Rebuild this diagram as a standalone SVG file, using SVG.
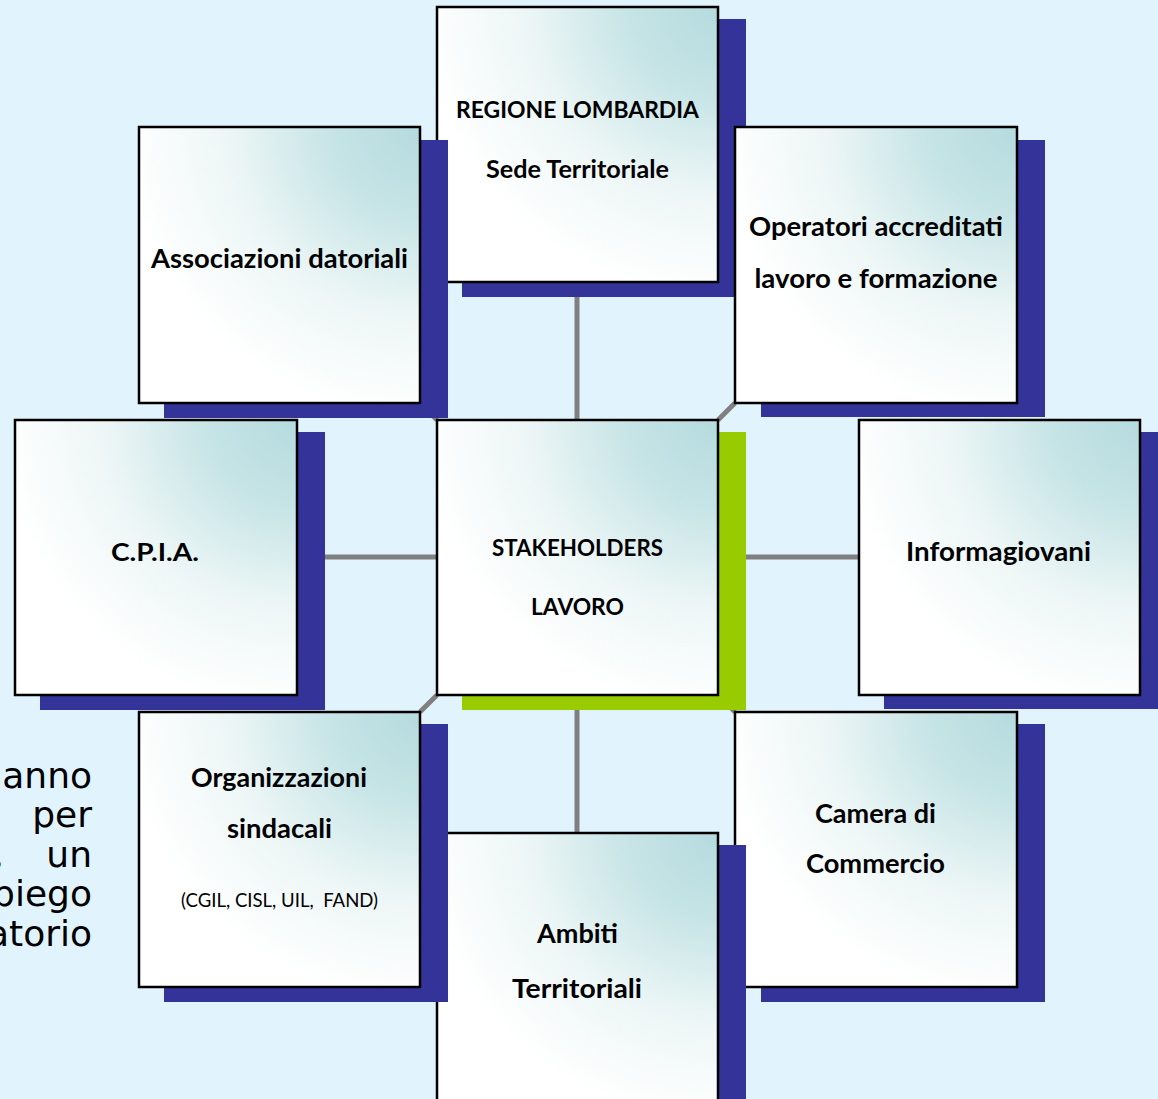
<svg xmlns="http://www.w3.org/2000/svg" width="1158" height="1099" viewBox="0 0 1158 1099">
  <defs>
    <radialGradient id="boxfill" cx="1" cy="0" r="1.05" fx="1" fy="0">
      <stop offset="0" stop-color="#B5DBDE"/>
      <stop offset="0.3" stop-color="#C6E4E6"/>
      <stop offset="0.65" stop-color="#EDF6F6"/>
      <stop offset="1" stop-color="#FFFFFF"/>
    </radialGradient>
  </defs>
  <style>
    .bg { fill: #E1F4FD; }
    .shadow { fill: #333399; }
    .shadow-green { fill: #99CC00; }
    .box { fill: url(#boxfill); stroke: #000000; stroke-width: 2.5; }
    .conn { stroke: #808080; stroke-width: 5; fill: none; }
    .lbl { font-family: Lato, "Liberation Sans", sans-serif; font-weight: bold; font-size: 26px; fill: #000000; text-anchor: middle; }
    .caps { font-size: 23px; }
    .small { font-family: Lato, "Liberation Sans", sans-serif; font-size: 18.5px; fill: #000000; text-anchor: middle; white-space: pre; }
    .bgtext { font-family: "DejaVu Sans", Verdana, sans-serif; font-size: 36px; fill: #000000; text-anchor: end; }
  </style>
  <rect class="bg" x="0" y="0" width="1158" height="1099"/>

  <g id="background-text">
    <text class="bgtext" x="92" y="788">anno</text>
    <text class="bgtext" x="92" y="827">per</text>
    <text class="bgtext" x="92" y="867">un</text>
    <text class="bgtext" x="4" y="867" text-anchor="start">,</text>
    <text class="bgtext" x="92" y="906">biego</text>
    <text class="bgtext" x="92" y="946">atorio</text>
  </g>

  <g id="connectors">
    <line class="conn" x1="577" y1="282" x2="577" y2="420"/>
    <line class="conn" x1="577" y1="695" x2="577" y2="833"/>
    <line class="conn" x1="297" y1="557" x2="437" y2="557"/>
    <line class="conn" x1="718" y1="557" x2="859" y2="557"/>
    <line class="conn" x1="420" y1="403" x2="437" y2="420"/>
    <line class="conn" x1="735" y1="403" x2="718" y2="420"/>
    <line class="conn" x1="437" y1="695" x2="420" y2="712"/>
    <line class="conn" x1="718" y1="695" x2="735" y2="712"/>
  </g>

  <g id="node-regione">
    <rect class="shadow" x="462" y="19" width="284" height="278"/>
    <rect class="box" x="437" y="7" width="281" height="275"/>
    <text class="lbl caps" x="577.5" y="118" textLength="243" lengthAdjust="spacingAndGlyphs">REGIONE LOMBARDIA</text>
    <text class="lbl" x="577.5" y="178" textLength="183" lengthAdjust="spacingAndGlyphs" style="font-size:25px">Sede Territoriale</text>
  </g>

  <g id="node-associazioni">
    <rect class="shadow" x="164" y="140" width="284" height="278"/>
    <rect class="box" x="139" y="127" width="281" height="276"/>
    <text class="lbl" x="279.5" y="268" textLength="257" lengthAdjust="spacingAndGlyphs">Associazioni datoriali</text>
  </g>

  <g id="node-operatori">
    <rect class="shadow" x="761" y="140" width="284" height="277"/>
    <rect class="box" x="735" y="127" width="282" height="276"/>
    <text class="lbl" x="876" y="236" textLength="254" lengthAdjust="spacingAndGlyphs">Operatori accreditati</text>
    <text class="lbl" x="876" y="288" textLength="243" lengthAdjust="spacingAndGlyphs">lavoro e formazione</text>
  </g>

  <g id="node-cpia">
    <rect class="shadow" x="40" y="432" width="285" height="278"/>
    <rect class="box" x="15" y="420" width="282" height="275"/>
    <text class="lbl" x="155" y="561" textLength="88" lengthAdjust="spacingAndGlyphs" style="font-size:24px">C.P.I.A.</text>
  </g>

  <g id="node-stakeholders">
    <rect class="shadow-green" x="462" y="432" width="284" height="278"/>
    <rect class="box" x="437" y="420" width="281" height="275"/>
    <text class="lbl caps" x="577.5" y="556" textLength="171" lengthAdjust="spacingAndGlyphs">STAKEHOLDERS</text>
    <text class="lbl caps" x="577.5" y="615" textLength="93" lengthAdjust="spacingAndGlyphs">LAVORO</text>
  </g>

  <g id="node-informagiovani">
    <rect class="shadow" x="884" y="432" width="284" height="277"/>
    <rect class="box" x="859" y="420" width="281" height="275"/>
    <text class="lbl" x="998.5" y="561" textLength="185" lengthAdjust="spacingAndGlyphs">Informagiovani</text>
  </g>

  <g id="node-camera">
    <rect class="shadow" x="761" y="724" width="284" height="278"/>
    <rect class="box" x="735" y="712" width="282" height="275"/>
    <text class="lbl" x="875.5" y="823" textLength="121" lengthAdjust="spacingAndGlyphs">Camera di</text>
    <text class="lbl" x="875.5" y="873" textLength="139" lengthAdjust="spacingAndGlyphs">Commercio</text>
  </g>

  <g id="node-ambiti">
    <rect class="shadow" x="462" y="845" width="284" height="278"/>
    <rect class="box" x="437" y="833" width="281" height="275"/>
    <text class="lbl" x="577.5" y="943" textLength="81" lengthAdjust="spacingAndGlyphs">Ambiti</text>
    <text class="lbl" x="577" y="998" textLength="130" lengthAdjust="spacingAndGlyphs">Territoriali</text>
  </g>

  <g id="node-organizzazioni">
    <rect class="shadow" x="164" y="724" width="284" height="278"/>
    <rect class="box" x="139" y="712" width="281" height="275"/>
    <text class="lbl" x="279" y="787" textLength="176" lengthAdjust="spacingAndGlyphs">Organizzazioni</text>
    <text class="lbl" x="279.5" y="838" textLength="105" lengthAdjust="spacingAndGlyphs">sindacali</text>
    <text class="small" x="279.5" y="907" textLength="197" lengthAdjust="spacingAndGlyphs">(CGIL, CISL, UIL,  FAND)</text>
  </g>
</svg>
